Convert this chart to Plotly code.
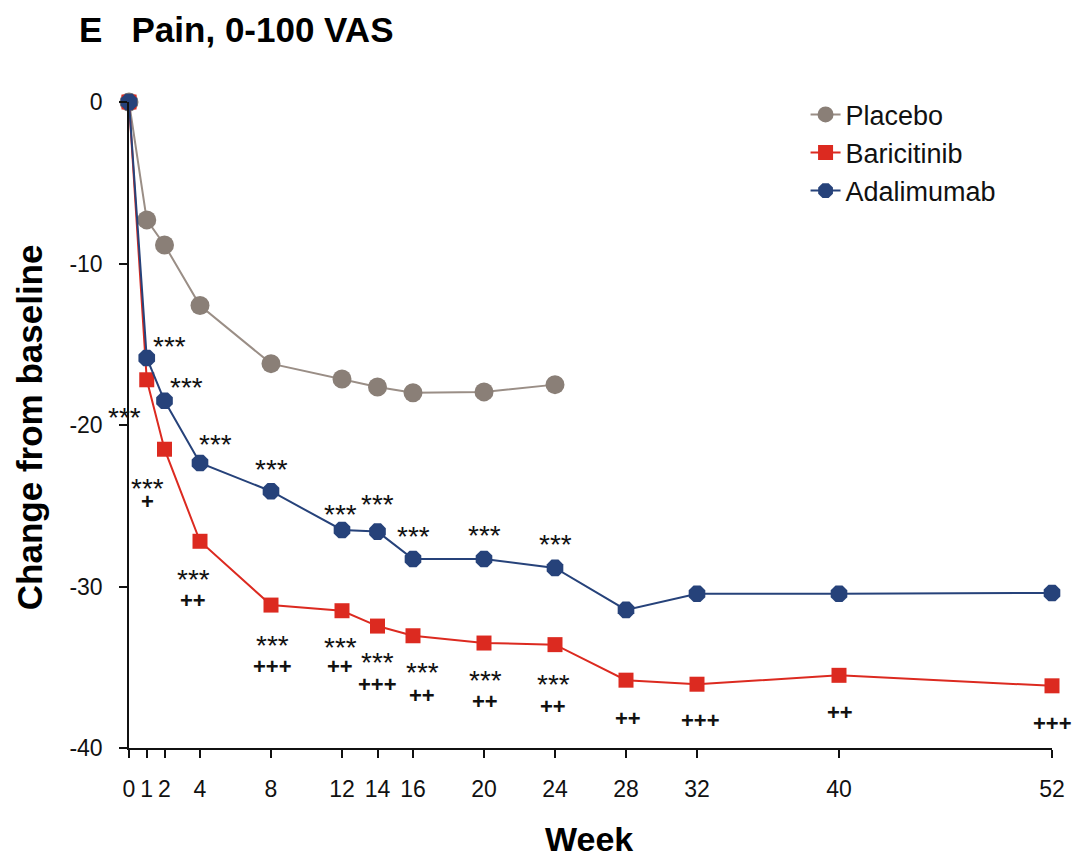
import plotly.graph_objects as go

# Visit weeks and mean change from baseline in pain (0-100 VAS)
weeks_placebo = [0, 1, 2, 4, 8, 12, 14, 16, 20, 24]
placebo = [0, -7.3, -8.85, -12.6, -16.2, -17.15, -17.65, -18.0, -17.95, -17.5]

weeks_active = [0, 1, 2, 4, 8, 12, 14, 16, 20, 24, 28, 32, 40, 52]
baricitinib = [0, -17.2, -21.5, -27.2, -31.15, -31.5, -32.45, -33.05, -33.5, -33.6,
               -35.8, -36.05, -35.5, -36.15]
adalimumab = [0, -15.85, -18.5, -22.35, -24.1, -26.5, -26.6, -28.3, -28.3, -28.85,
              -31.45, -30.45, -30.45, -30.4]

week_ticks = [0, 1, 2, 4, 8, 12, 14, 16, 20, 24, 28, 32, 40, 52]
y_ticks = [0, -10, -20, -30, -40]

# Significance flags (*** vs placebo, + vs adalimumab)
ada_star_weeks = [1, 2, 4, 8, 12, 14, 16, 20, 24]
bari_star_weeks = [1, 2, 4, 8, 12, 14, 16, 20, 24]
bari_plus_weeks = [2, 4, 8, 12, 14, 16, 20, 24, 28, 32, 40, 52]
bari_plus_labels = ["+", "++", "+++", "++", "+++", "++", "++", "++", "++", "+++", "++", "+++"]

# Label offsets from the marker, in pixels (dx, dy)
ada_star_offsets = [(23, 11), (22, 13), (15, 18), (0, 22), (-2, 15), (0, 27), (0, 23), (0, 24), (0, 23)]
bari_star_offsets = [(-22, -38), (-17, -39), (-7, -38), (1, -40), (-2, -37), (0, -36), (9, -37), (1, -37), (-2, -40)]
bari_plus_offsets = [(-17, -52), (-7, -59), (1, -61), (-2, -56), (0, -58), (9, -60), (1, -58), (-2, -62),
                     (2, -38), (3, -36), (1, -37), (0, -38)]

FONT = "Liberation Sans, Arial, Helvetica, sans-serif"
C_PLACEBO_LINE = "#9a8e86"
C_PLACEBO = "#8a7f77"
C_BARI = "#dc2a20"
C_ADA = "#26427a"

fig = go.Figure()
fig.add_trace(go.Scatter(
    x=weeks_placebo, y=placebo, name="Placebo", mode="lines+markers",
    line=dict(color=C_PLACEBO_LINE, width=2),
    marker=dict(symbol="circle", size=19, color=C_PLACEBO),
    cliponaxis=False, legendgroup="p"))
fig.add_trace(go.Scatter(
    x=weeks_active, y=baricitinib, name="Baricitinib", mode="lines+markers",
    line=dict(color=C_BARI, width=2),
    marker=dict(symbol="square", size=15, color=C_BARI),
    cliponaxis=False, legendgroup="b"))
fig.add_trace(go.Scatter(
    x=weeks_active, y=adalimumab, name="Adalimumab", mode="lines+markers",
    line=dict(color=C_ADA, width=2),
    marker=dict(symbol="octagon", size=18, color=C_ADA),
    cliponaxis=False, legendgroup="a"))

ann = []
ada_lookup = dict(zip(weeks_active, adalimumab))
bari_lookup = dict(zip(weeks_active, baricitinib))
for w, (dx, dy) in zip(ada_star_weeks, ada_star_offsets):
    ann.append(dict(x=w, y=ada_lookup[w], text="***", showarrow=False, xshift=dx, yshift=dy,
                    font=dict(family=FONT, size=28, color="#111")))
for w, (dx, dy) in zip(bari_star_weeks, bari_star_offsets):
    ann.append(dict(x=w, y=bari_lookup[w], text="***", showarrow=False, xshift=dx, yshift=dy,
                    font=dict(family=FONT, size=28, color="#111")))
for w, lab, (dx, dy) in zip(bari_plus_weeks, bari_plus_labels, bari_plus_offsets):
    ann.append(dict(x=w, y=bari_lookup[w], text="<b>" + lab + "</b>", showarrow=False, xshift=dx, yshift=dy,
                    font=dict(family=FONT, size=22, color="#111")))

# Panel title and axis titles
ann.append(dict(x=-0.056, y=1.1115, xref="paper", yref="paper", xanchor="left", yanchor="middle",
                text="<b>E   Pain, 0-100 VAS</b>", showarrow=False,
                font=dict(family=FONT, size=35, color="#000")))
ann.append(dict(x=0.498, y=-0.141, xref="paper", yref="paper", xanchor="center", yanchor="middle",
                text="<b>Week</b>", showarrow=False,
                font=dict(family=FONT, size=34, color="#000")))
ann.append(dict(x=-0.107, y=0.497, xref="paper", yref="paper", xanchor="center", yanchor="middle",
                text="<b>Change from baseline</b>", showarrow=False, textangle=-90,
                font=dict(family=FONT, size=35, color="#000")))
fig.update_layout(annotations=ann)

fig.update_layout(
    width=1073, height=860,
    margin=dict(l=129, r=21, t=102, b=112),
    paper_bgcolor="white", plot_bgcolor="white",
    showlegend=True,
    legend=dict(x=0.733, y=1.018, xanchor="left", yanchor="top",
                font=dict(family=FONT, size=27, color="#111"),
                tracegroupgap=0, bgcolor="rgba(0,0,0,0)"),
    font=dict(family=FONT, color="#111"),
)
fig.update_xaxes(
    range=[0, 52], tickvals=week_ticks, ticktext=[str(t) for t in week_ticks],
    showline=True, linecolor="#111", linewidth=1.5, ticks="outside", ticklen=8,
    tickcolor="#111", tickwidth=1.5, showgrid=False, zeroline=False, automargin=False,
    tickfont=dict(family=FONT, size=23, color="#111"), ticklabelstandoff=12,
)
fig.update_yaxes(
    range=[-40, 0], tickvals=y_ticks, ticktext=[str(t) for t in y_ticks],
    showline=True, linecolor="#111", linewidth=1.5, ticks="outside", ticklen=8,
    tickcolor="#111", tickwidth=1.5, showgrid=False, zeroline=False, automargin=False,
    tickfont=dict(family=FONT, size=23, color="#111"), ticklabelstandoff=12,
)

fig.write_html("out.html")
